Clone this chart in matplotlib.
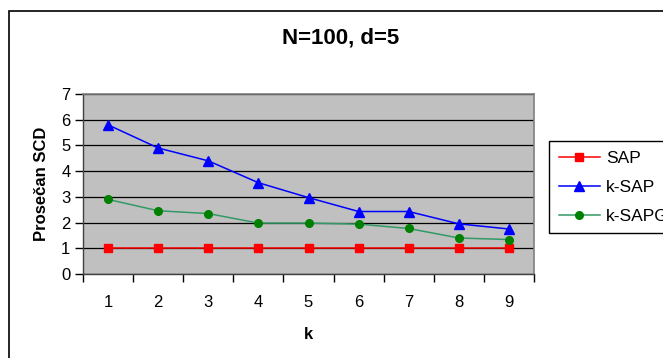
import matplotlib
matplotlib.use("Agg")
import matplotlib.pyplot as plt
from matplotlib.patches import Rectangle

plt.rcParams['font.family'] = ['Liberation Sans', 'DejaVu Sans']

# average SCD per k
k_values = [1, 2, 3, 4, 5, 6, 7, 8, 9]
sap = [1.0, 1.0, 1.0, 1.0, 1.0, 1.0, 1.0, 1.0, 1.0]
k_sap = [5.8, 4.9, 4.4, 3.55, 2.97, 2.43, 2.43, 1.95, 1.75]
k_sapg = [2.9, 2.46, 2.35, 1.98, 1.98, 1.94, 1.77, 1.4, 1.34]

W, H = 663, 358
fig = plt.figure(figsize=(W / 100, H / 100), dpi=100)
ax = fig.add_axes([83 / W, 1 - 274 / H, (534 - 83) / W, (274 - 94) / H])
ax.set_facecolor('#C0C0C0')

ax.plot(k_values, sap, color='#FF0000', lw=1.1, marker='s', ms=5.5,
        mfc='#FF0000', mec='#FF0000', label='SAP', zorder=3)
ax.plot(k_values, k_sap, color='#0000FF', lw=1.1, marker='^', ms=6.5,
        mfc='#0000FF', mec='#0000FF', label='k-SAP', zorder=3)
ax.plot(k_values, k_sapg, color='#339966', lw=1.1, marker='o', ms=5.5,
        mfc='#008000', mec='#008000', label='k-SAPG', zorder=3)

ax.set_xlim(0.5, 9.5)
ax.set_ylim(0, 7)
ax.set_yticks(range(0, 8))
ax.yaxis.grid(True, color='black', lw=0.9)
ax.set_axisbelow(True)

# category axis: ticks between categories, labels at centres
ax.set_xticks([i + 0.5 for i in range(0, 10)])
ax.set_xticklabels([])
ax.set_xticks(k_values, minor=True)
ax.set_xticklabels([str(k) for k in k_values], minor=True)
ax.tick_params(axis='x', which='minor', length=0, pad=15, labelsize=12)
ax.tick_params(axis='x', which='major', length=6, width=1, direction='out')
ax.tick_params(axis='y', length=6, width=1, direction='out', pad=3, labelsize=12)

for side in ('top', 'right'):
    ax.spines[side].set_color('#808080')
    ax.spines[side].set_linewidth(1.2)
for side in ('left', 'bottom'):
    ax.spines[side].set_color('#404040')
    ax.spines[side].set_linewidth(1.0)

ax.set_ylabel('Prosečan SCD', fontsize=12, fontweight='bold', labelpad=9)
ax.set_xlabel('k', fontsize=12, fontweight='bold', labelpad=12.5)
fig.text(341 / W, 1 - 38 / H, 'N=100, d=5', ha='center', va='center',
         fontsize=16, fontweight='bold')

leg = fig.legend(loc='upper left', bbox_to_anchor=(549 / W, 1 - 141 / H),
                 bbox_transform=fig.transFigure, borderaxespad=0, fontsize=12.5,
                 fancybox=False, edgecolor='black', framealpha=1,
                 handlelength=2.4, handletextpad=0.35, labelspacing=0.8,
                 borderpad=0.55)
leg.get_frame().set_linewidth(1.0)

# outer chart border
fig.patches.append(Rectangle((9 / W, -0.1), 1.0, 1 - 11 / H + 0.1,
                             transform=fig.transFigure, fill=False,
                             edgecolor='black', lw=1.2))

fig.savefig('out.png', dpi=100)
